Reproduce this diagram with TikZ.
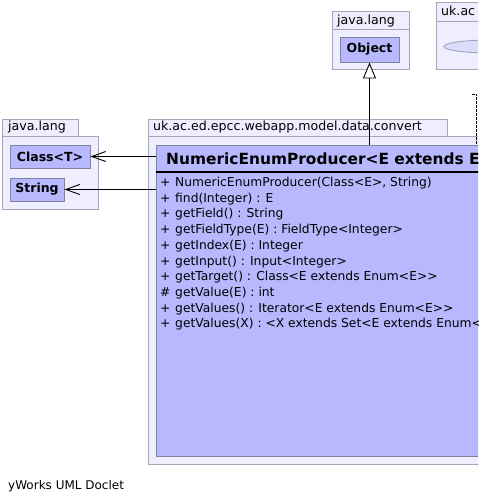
\documentclass[tikz,border=0pt]{standalone}
\usepackage{fontspec}
\setmainfont{DejaVu Sans}[Ligatures=TeXOff]
\usetikzlibrary{arrows.meta,shapes.geometric}
\definecolor{pkgfill}{RGB}{238,238,255}
\definecolor{pkgdraw}{RGB}{165,165,185}
\definecolor{clsfill}{RGB}{184,184,255}
\definecolor{clsdraw}{RGB}{130,130,165}
\definecolor{ellfill}{RGB}{220,220,250}
\begin{document}
\begin{tikzpicture}[x=1pt,y=-1pt,
  pkgbox/.style={draw=pkgdraw, fill=pkgfill, line width=0.9pt},
  pkglabel/.style={anchor=base west, inner sep=0pt, font=\fontsize{12.6}{14}\selectfont},
  clsbox/.style={draw=clsdraw, fill=clsfill, line width=0.9pt, inner sep=0pt,
                 font=\bfseries\fontsize{12.5}{14}\selectfont},
  memtext/.style={anchor=base west, inner sep=0pt, font=\fontsize{12.3}{14}\selectfont},
  depend/.style={line width=0.9pt, -{Straight Barb[length=14pt,width=10pt,line width=0.9pt]}},
  inherit/.style={line width=0.9pt, -{Triangle[open,length=16pt,width=13pt,line width=0.9pt,fill=white]}},
  realize/.style={line width=0.9pt, dash pattern=on 2.5pt off 1.5pt}]
\useasboundingbox (0,0) rectangle (478,502);
\clip (0,0) rectangle (478,502);

% left java.lang package
\draw[pkgbox] (2,119) rectangle (78,136);
\draw[pkgbox] (2,136) rectangle (98,209);
\node[pkglabel] (pkgL) at (8,131) {java.lang};
\node[clsbox, minimum width=80, minimum height=23] (classT) at (50,156.5) {Class<T>};
\node[clsbox, minimum width=54, minimum height=23] (string) at (37,189.5) {String};

% top java.lang package
\draw[pkgbox] (332,11) rectangle (409,29);
\draw[pkgbox] (332,29) rectangle (409,69);
\node[pkglabel] (pkgT) at (337,25) {java.lang};
\node[clsbox, minimum width=59, minimum height=25] (obj) at (369.5,49.5) {Object};

% uk.ac package
\draw[pkgbox] (436,2) rectangle (495,21);
\draw[pkgbox] (436,21) rectangle (495,69);
\node[pkglabel] (pkgU) at (441,16) {uk.ac};
\node[draw=pkgdraw, fill=ellfill, line width=0.9pt, ellipse, minimum width=92, minimum height=13, inner sep=0pt] (ell) at (490,46.5) {};

% main package
\draw[pkgbox] (148,119) rectangle (447,136);
\draw[pkgbox] (148,136) rectangle (495,464);
\node[pkglabel] (pkgM) at (153,131) {uk.ac.ed.epcc.webapp.model.data.convert};

% main class
\node[draw=clsdraw, fill=clsfill, line width=0.9pt, minimum width=340, minimum height=311, inner sep=0pt] (main) at (326,300.5) {};
\draw[line width=2pt] (main.west |- 0,172) -- (main.east |- 0,172);
\node[anchor=base west, inner sep=0pt, font=\bfseries\fontsize{15.4}{18}\selectfont] (title) at (166,165) {NumericEnumProducer<E extends Enum<E>>};

\foreach \v/\t [count=\i from 0] in {
  +/{NumericEnumProducer(Class<E>, String)},
  +/{find(Integer) : E},
  +/{getField() : String},
  +/{getFieldType(E) : FieldType<Integer>},
  +/{getIndex(E) : Integer},
  +/{getInput() : Input<Integer>},
  +/{getTarget() : Class<E extends Enum<E>>},
  \#/{getValue(E) : int},
  +/{getValues() : Iterator<E extends Enum<E>>},
  +/{getValues(X) : <X extends Set<E extends Enum<E>>> X}} {
  \node[memtext] (vis\i) at (160,186.5+15.7*\i) {\v};
  \node[memtext] (mem\i) at (175,186.5+15.7*\i) {\t};
}

% connectors
\draw[depend] (main.west |- classT.east) -- (classT.east);
\draw[depend] (main.west |- string.east) -- (string.east);
\draw[inherit] (obj.south |- main.north) -- (obj.south);
\coordinate (dtop) at (472,94);
\draw[realize] (dtop) -- (476.5,94) -- (476.5,145);

\node[anchor=base west, inner sep=0pt, font=\fontsize{12}{14}\selectfont] (footer) at (8,489) {yWorks UML Doclet};
\end{tikzpicture}
\end{document}
